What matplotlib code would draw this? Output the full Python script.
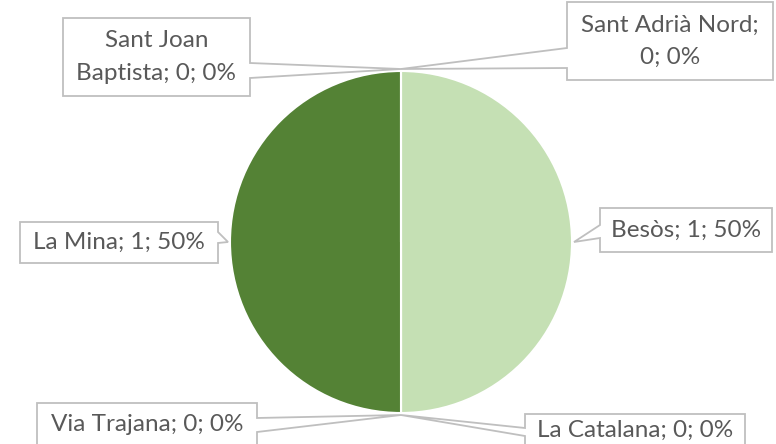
import numpy as np
import matplotlib.pyplot as plt
from matplotlib.patches import Polygon

W, H = 776, 444

names = ["Sant Adrià Nord", "Besòs", "La Catalana", "Via Trajana", "La Mina", "Sant Joan Baptista"]
values = [0, 1, 0, 0, 1, 0]
colors = ["#a9d18e", "#c5e0b4", "#e2f0d9", "#385723", "#548235", "#70ad47"]
label_texts = ["Sant Adrià Nord;\n0; 0%", "Besòs; 1; 50%", "La Catalana; 0; 0%",
               "Via Trajana; 0; 0%", "La Mina; 1; 50%", "Sant Joan\nBaptista; 0; 0%"]

# callout boxes in image pixels: (x0, y0, x1, y1), side, pointer base (a, b)
boxes = [
    ((567, 2, 773, 80), "left", (48, 68)),
    ((600, 208, 772, 252), "left", (225, 238)),
    ((525, 414, 745, 448), "left", (428, 436)),
    ((37, 403, 257, 448), "right", (418, 432)),
    ((20, 222, 218, 263), "right", (232, 243)),
    ((63, 18, 250, 96), "right", (63, 78)),
]

CX, CY, R = 401, 242, 171
EDGE = "#bfbfbf"
TXT = "#595959"

plt.rcParams['font.family'] = ['Lato', 'DejaVu Sans']

fig = plt.figure(figsize=(W / 100, H / 100), dpi=100)
ax = fig.add_axes([0, 0, 1, 1])

wedges, _ = ax.pie(values, colors=colors, startangle=90, counterclock=False,
                   center=(CX, H - CY), radius=R,
                   wedgeprops=dict(edgecolor="white", linewidth=1.5))
ax.set_xlim(0, W)
ax.set_ylim(0, H)
ax.set_aspect("equal")
ax.axis("off")


def callout(box, side, base, tip):
    x0, y0, x1, y1 = box
    a, b = base
    if side == "left":
        pts = [(x0, y0), (x1, y0), (x1, y1), (x0, y1), (x0, b), tip, (x0, a)]
    else:
        pts = [(x0, y0), (x1, y0), (x1, a), tip, (x1, b), (x1, y1), (x0, y1)]
    return [(px, H - py) for px, py in pts]


for w, txt, (box, side, base) in zip(wedges, label_texts, boxes):
    mid = np.deg2rad((w.theta1 + w.theta2) / 2)
    tip = (CX + (R + 2) * np.cos(mid), CY - (R + 2) * np.sin(mid))
    poly = Polygon(callout(box, side, base, tip), closed=True, facecolor="white",
                   edgecolor=EDGE, linewidth=1.3, zorder=3)
    ax.add_patch(poly)
    x0, y0, x1, y1 = box
    ty = (y0 + min(y1, H - 2)) / 2 + (2 if y1 > H else 0)
    ax.text((x0 + x1) / 2, H - ty, txt, ha="center", va="center", fontsize=17.5,
            color=TXT, linespacing=1.65, zorder=4)

fig.savefig("out.png", dpi=100)
